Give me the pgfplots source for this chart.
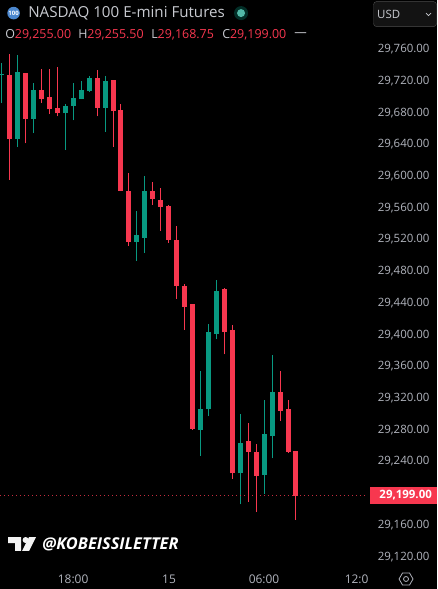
\documentclass[border=0pt]{standalone}
\usepackage{pgfplots}
\usepackage{fontspec}
\pgfplotsset{compat=1.18,scaled y ticks=false,scaled x ticks=false}
\setmainfont{Open Sans}
\definecolor{cred}{HTML}{F7374F}
\definecolor{cgreen}{HTML}{089981}
\definecolor{ctxt}{HTML}{B2B5BE}
\definecolor{ctitle}{HTML}{C8CAD0}
\begin{document}
\begin{tikzpicture}
\fill[black] (0,0) rectangle (437bp,589bp);
\begin{axis}[at={(0,21bp)},anchor=south west,scale only axis,width=368bp,height=568bp,
  xmin=0,xmax=368,ymin=29107.6,ymax=29823.8,axis line style={draw=none},
  clip=true,unbounded coords=jump,
  ytick=\empty,xtick={73,169,264,360},xticklabels={18:00,15,06:00,12:00},
  major tick length=0pt,
  xticklabel style={font=\fontsize{12}{12}\selectfont,text=ctxt,yshift=-3bp,/pgf/number format/assume math mode=true}]
% wicks green
\addplot[cgreen,line width=1bp] coordinates {
(1.3,29694)(1.3,29744)(1.3,nan)
(17.3,29639)(17.3,29754)(17.3,nan)
(33.3,29656)(33.3,29719)(33.3,nan)
(65.3,29635)(65.3,29693)(65.3,nan)
(73.3,29672)(73.3,29719)(73.3,nan)
(81.3,29699)(81.3,29722)(81.3,nan)
(89.3,29708)(89.3,29728)(89.3,nan)
(105.3,29658)(105.3,29728)(105.3,nan)
(136.3,29495)(136.3,29558)(136.3,nan)
(144.3,29505)(144.3,29602)(144.3,nan)
(200.3,29249)(200.3,29356)(200.3,nan)
(208.3,29299)(208.3,29415)(208.3,nan)
(216.3,29396)(216.3,29471)(216.3,nan)
(240.3,29188)(240.3,29302)(240.3,nan)
(264.3,29201)(264.3,29319)(264.3,nan)
(272.3,29246)(272.3,29376)
};
% wicks red
\addplot[cred,line width=1bp] coordinates {
(9.3,29597)(9.3,29756)(9.3,nan)
(25.3,29643)(25.3,29732)(25.3,nan)
(41.3,29694)(41.3,29737)(41.3,nan)
(49.3,29680)(49.3,29737)(49.3,nan)
(57.3,29677)(57.3,29739)(57.3,nan)
(97.3,29677)(97.3,29736)(97.3,nan)
(113.3,29639)(113.3,29723)(113.3,nan)
(120.3,29583)(120.3,29693)(120.3,nan)
(128.3,29514)(128.3,29606)(128.3,nan)
(152.3,29566)(152.3,29594)(152.3,nan)
(160.3,29533)(160.3,29587)(160.3,nan)
(168.3,29518)(168.3,29565)(168.3,nan)
(176.3,29447)(176.3,29539)(176.3,nan)
(184.3,29408)(184.3,29466)(184.3,nan)
(192.3,29282)(192.3,29440)(192.3,nan)
(224.3,29377)(224.3,29461)(224.3,nan)
(232.3,29220)(232.3,29414)(232.3,nan)
(248.3,29191)(248.3,29290)(248.3,nan)
(256.3,29178)(256.3,29264)(256.3,nan)
(280.3,29293)(280.3,29356)(280.3,nan)
(288.3,29253)(288.3,29319)(288.3,nan)
(295.3,29168.75)(295.3,29255.5)
};
% bodies green
\addplot[cgreen,line width=5bp] coordinates {
(17.3,29649)(17.3,29733)(17.3,nan)
(33.3,29674)(33.3,29710)(33.3,nan)
(65.3,29681)(65.3,29690)(65.3,nan)
(73.3,29690)(73.3,29700)(73.3,nan)
(81.3,29699)(81.3,29710)(81.3,nan)
(89.3,29709)(89.3,29725)(89.3,nan)
(105.3,29688)(105.3,29722)(105.3,nan)
(136.3,29519)(136.3,29527)(136.3,nan)
(144.3,29524)(144.3,29583)(144.3,nan)
(200.3,29282)(200.3,29308)(200.3,nan)
(208.3,29308)(208.3,29405)(208.3,nan)
(216.3,29403)(216.3,29457)(216.3,nan)
(240.3,29227)(240.3,29265)(240.3,nan)
(264.3,29225)(264.3,29277)(264.3,nan)
(272.3,29274)(272.3,29330)
};
\addplot[cgreen,line width=1bp] coordinates {(0,29729.5)(4,29729.5)};
% bodies red
\addplot[cred,line width=5bp] coordinates {
(9.3,29649)(9.3,29729)(9.3,nan)
(25.3,29674)(25.3,29732)(25.3,nan)
(41.3,29699)(41.3,29710)(41.3,nan)
(49.3,29686)(49.3,29702)(49.3,nan)
(57.3,29681)(57.3,29688)(57.3,nan)
(97.3,29688)(97.3,29725)(97.3,nan)
(113.3,29684)(113.3,29723)(113.3,nan)
(120.3,29583)(120.3,29685)(120.3,nan)
(128.3,29519)(128.3,29583)(128.3,nan)
(152.3,29573)(152.3,29583)(152.3,nan)
(160.3,29563)(160.3,29572)(160.3,nan)
(168.3,29521)(168.3,29564)(168.3,nan)
(176.3,29463)(176.3,29521)(176.3,nan)
(184.3,29437)(184.3,29463)(184.3,nan)
(192.3,29283)(192.3,29440)(192.3,nan)
(224.3,29405)(224.3,29459)(224.3,nan)
(232.3,29227)(232.3,29408)(232.3,nan)
(248.3,29254)(248.3,29268)(248.3,nan)
(256.3,29224)(256.3,29254)(256.3,nan)
(280.3,29306)(280.3,29330)(280.3,nan)
(288.3,29254)(288.3,29308)(288.3,nan)
(295.3,29199)(295.3,29255)
};
% last price line
\addplot[cred,line width=0.8bp,dash pattern=on 1bp off 3bp,opacity=.8] coordinates {(0,29199)(368,29199)};
\end{axis}
\fill[black] (368bp,0) rectangle (437bp,589bp);
\begin{axis}[at={(0,21bp)},anchor=south west,scale only axis,width=368bp,height=568bp,
  xmin=0,xmax=368,ymin=29107.6,ymax=29823.8,axis line style={draw=none},
  clip=false,xtick=\empty,major tick length=0pt,
  ytick={29120,29160,29240,29280,29320,29360,29400,29440,29480,29520,29560,29600,29640,29680,29720,29760},
  yticklabels={{29,120.00},{29,160.00},{29,240.00},{29,280.00},{29,320.00},{29,360.00},{29,400.00},{29,440.00},{29,480.00},{29,520.00},{29,560.00},{29,600.00},{29,640.00},{29,680.00},{29,720.00},{29,760.00}},
  yticklabel pos=right,
  yticklabel style={font=\fontsize{11.5}{12}\selectfont,text=ctxt,anchor=east,xshift=65bp,yshift=1.5bp}]
\addplot[draw=none] coordinates {(0,29199)(368,29199)};
\node[fill=cred,minimum width=67bp,minimum height=17bp,inner sep=0pt,anchor=west] at (axis cs:370,29199) {};
\node[text=white,font=\fontsize{11.5}{12}\bfseries\selectfont,inner sep=0pt,anchor=east] at (axis cs:432,29199) {29,199.00};
\end{axis}
\begin{scope}[shift={(0,589bp)},x=1bp,y=-1bp]
\fill[fill=cyan!50!blue!75!white] (13.5,13) circle (6.3);
\node[text=white,font=\fontsize{6}{6}\bfseries\selectfont,inner sep=0pt] at (13.5,13) {100};
\node[anchor=west,text=ctitle,font=\fontsize{15.2}{16}\selectfont,inner sep=0pt] at (28,13.5) {NASDAQ 100 E-mini Futures};
\fill[cgreen!30!black] (241,13) circle (7);
\fill[cgreen!70!white] (241,13) circle (4);
\begin{scope}[every node/.style={anchor=west,font=\fontsize{12.5}{13}\selectfont,inner sep=0pt}]
\node at (5,34.5) {\textcolor{ctitle}{O}\textcolor{cred}{29,255.00}};
\node at (78,34.5) {\textcolor{ctitle}{H}\textcolor{cred}{29,255.50}};
\node at (151,34.5) {\textcolor{ctitle}{L}\textcolor{cred}{29,168.75}};
\node at (222,34.5) {\textcolor{ctitle}{C}\textcolor{cred}{29,199.00}};
\node at (294,34.5) {\textcolor{ctitle}{---}};
\end{scope}
\draw[gray!60!black,fill=black!85!gray,rounded corners=3] (373.5,1.5) rectangle (436.5,26.5);
\node[anchor=west,text=ctitle,font=\fontsize{11.5}{12}\selectfont,inner sep=0pt] at (377,14) {USD};
\draw[ctitle,line width=.7] (426,13) -- (428.5,15.5) -- (431,13);
\fill[white!90!gray] (8,537) -- (21,537) -- (21,551) -- (15,551) -- (15,543) -- (8,543) -- cycle;
\fill[white!90!gray] (25.5,540) circle (3);
\fill[white!90!gray] (29,537) -- (36,537) -- (29,551) -- (22,551) -- cycle;
\node[anchor=west,text=white,font=\fontsize{16.4}{17}\bfseries\itshape\selectfont,inner sep=0pt] at (42,544) {@KOBEISSILETTER};
\draw[ctxt,line width=.8] (399,579) -- (402.5,573) -- (409.5,573) -- (413,579) -- (409.5,585) -- (402.5,585) -- cycle;
\draw[ctxt,line width=.8] (406,579) circle (2.5);
\end{scope}
\end{tikzpicture}
\end{document}
